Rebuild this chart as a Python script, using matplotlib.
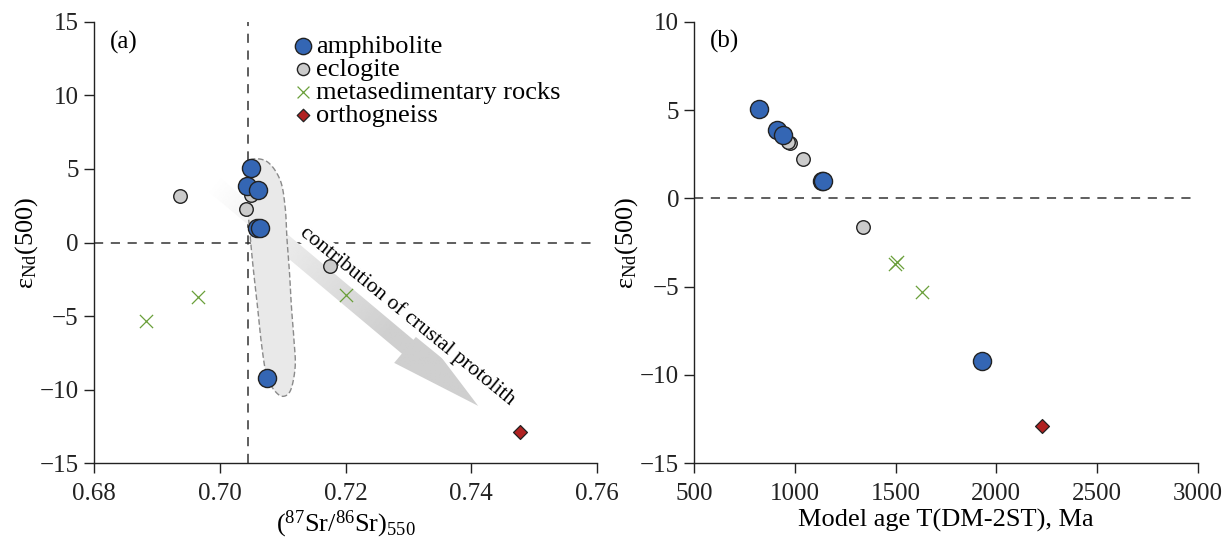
import numpy as np
import matplotlib
matplotlib.use("Agg")
import matplotlib.pyplot as plt
from matplotlib.patches import Polygon

plt.rcParams["font.family"] = ["Liberation Serif", "DejaVu Serif"]
plt.rcParams["mathtext.fontset"] = "custom"
plt.rcParams["mathtext.rm"] = "Liberation Serif"
plt.rcParams["mathtext.it"] = "Liberation Serif:italic"

# amphibolite
amph_sr = [0.7050, 0.7044, 0.7061, 0.7059, 0.7064, 0.7075]
amph_t = [821, 912, 939, 1135, 1139, 1931]
amph_eps = [5.05, 3.85, 3.6, 1.0, 1.0, -9.2]

# eclogite
ecl_sr = [0.6936, 0.7050, 0.7042, 0.7175]
ecl_t = [975, 965, 1038, 1339]
ecl_eps = [3.15, 3.2, 2.25, -1.6]

# metasedimentary rocks
met_sr = [0.6883, 0.6965, 0.7200]
met_t = [1631, 1497, 1505]
met_eps = [-5.3, -3.7, -3.6]

# orthogneiss
orth_sr = [0.7478]
orth_t = [2226]
orth_eps = [-12.9]

sr_ref = 0.7045

# outline of the amphibolite field in panel (a)
field_sr = [0.7048, 0.7075, 0.7096, 0.7104, 0.7107, 0.7111, 0.7114, 0.7118,
            0.7120, 0.7113, 0.7101, 0.7088, 0.7075, 0.7067, 0.7060, 0.7053,
            0.7048, 0.7043, 0.7040]
field_eps = [5.6, 5.5, 4.25, 2.4, 0.2, -2.1, -4.35, -6.6, -8.4, -10.0, -10.45,
             -10.1, -9.1, -7.1, -4.35, -1.65, 0.6, 3.1, 4.7]

# trend arrow (tail, tip)
arrow_sr = [0.6988, 0.7411]
arrow_eps = [4.05, -11.1]

c_amph = "#3466b4"
c_ecl = "#cbcbcb"
c_met = "#6a9f3a"
c_orth = "#b02222"


def smooth_closed(x, y, n=20):
    # periodic Catmull-Rom through the outline vertices
    p = np.column_stack([x, y])
    m = len(p)
    out = []
    for i in range(m):
        p0, p1, p2, p3 = p[i - 1], p[i], p[(i + 1) % m], p[(i + 2) % m]
        for t in np.linspace(0, 1, n, endpoint=False):
            t2, t3 = t * t, t * t * t
            out.append(0.5 * (2 * p1 + (-p0 + p2) * t + (2 * p0 - 5 * p1 + 4 * p2 - p3) * t2
                              + (-p0 + 3 * p1 - 3 * p2 + p3) * t3))
    out.append(out[0])
    return np.array(out)


def style_axes(ax):
    for s in ["top", "right"]:
        ax.spines[s].set_visible(False)
    for s in ["left", "bottom"]:
        ax.spines[s].set_linewidth(1.0)
        ax.spines[s].set_color("#222222")
    ax.tick_params(direction="out", length=7, width=1.0, labelsize=18, colors="#222222",
                   pad=4)
    ax.tick_params(axis="x", pad=7)


def draw_points(ax, xa, xe, xm, xo):
    ax.scatter(xe, ecl_eps, s=95, c=c_ecl, edgecolors="#222222", linewidths=1.0, zorder=4,
               label="eclogite")
    ax.scatter(xa, amph_eps, s=170, c=c_amph, edgecolors="#222222", linewidths=1.0, zorder=5,
               label="amphibolite")
    ax.scatter(xm, met_eps, s=90, c=c_met, marker="x", linewidths=0.9, zorder=4,
               label="metasedimentary rocks")
    ax.scatter(xo, orth_eps, s=50, c=c_orth, marker="D", edgecolors="#222222", linewidths=0.9,
               zorder=4, label="orthogneiss")


fig = plt.figure(figsize=(12.28, 5.44), dpi=100)
ax1 = fig.add_axes([94 / 1228, 80.7 / 544, 503 / 1228, 441.6 / 544])
ax2 = fig.add_axes([694.4 / 1228, 80.7 / 544, 503.1 / 1228, 441.6 / 544])

# ---- panel (a)
ax1.set_xlim(0.68, 0.76)
ax1.set_ylim(-15, 15)
ax1.set_xticks([0.68, 0.70, 0.72, 0.74, 0.76])
ax1.set_xticklabels(["0.68", "0.70", "0.72", "0.74", "0.76"])
ax1.set_yticks([-15, -10, -5, 0, 5, 10, 15])
style_axes(ax1)

ax1.axhline(0, color="#333333", lw=1.1, ls=(0, (6, 5)), zorder=1)
ax1.axvline(sr_ref, color="#333333", lw=1.1, ls=(0, (6, 5)), zorder=1)

outline = smooth_closed(field_sr, field_eps)
ax1.add_patch(Polygon(outline, closed=True, facecolor="#e9e9e9", edgecolor="#8a8a8a",
                      lw=1.0, ls=(0, (4, 2)), zorder=2))

# gradient arrow, built in pixel space so the head keeps its shape
tail = ax1.transData.transform((arrow_sr[0], arrow_eps[0]))
tip = ax1.transData.transform((arrow_sr[1], arrow_eps[1]))
u = (tip - tail) / np.hypot(*(tip - tail))
nrm = np.array([-u[1], u[0]])
length = np.hypot(*(tip - tail))
hw_shaft, hw_head, head_len = 9.0, 21.0, 92.0
base = tail + u * (length - head_len)
poly_px = np.array([tail + nrm * hw_shaft, base + nrm * hw_shaft, base + nrm * hw_head, tip,
                    base - nrm * hw_head, base - nrm * hw_shaft, tail - nrm * hw_shaft])
poly = ax1.transData.inverted().transform(poly_px)
arrow_patch = Polygon(poly, closed=True, facecolor="none", edgecolor="none")
ax1.add_patch(arrow_patch)
gx = np.linspace(0.68, 0.76, 400)
gy = np.linspace(-15, 15, 300)
GX, GY = np.meshgrid(gx, gy)
pts = ax1.transData.transform(np.column_stack([GX.ravel(), GY.ravel()]))
tt = np.clip(((pts - tail) @ u) / length, 0, 1).reshape(GX.shape)
shade = 1.0 - 0.19 * np.clip(tt * 1.5, 0, 1)
ax1.imshow(shade, extent=(0.68, 0.76, -15, 15), origin="lower", cmap="gray", vmin=0, vmax=1,
           aspect="auto", clip_path=arrow_patch, zorder=1.5, interpolation="bilinear")
ax1.set_xlim(0.68, 0.76)
ax1.set_ylim(-15, 15)

ang = np.degrees(np.arctan2(u[1], u[0]))
ax1.text(0.7298, -5.0, "contribution of crustal protolith", rotation=ang + 0.8,
         rotation_mode="anchor", ha="center", va="center", fontsize=15.5, zorder=3,
         bbox=dict(facecolor="white", edgecolor="none", pad=0.5))

draw_points(ax1, amph_sr, ecl_sr, met_sr, orth_sr)

ax1.text(0.6825, 13.6, "(a)", fontsize=18, ha="left", va="center")
handles, labels = ax1.get_legend_handles_labels()
order = [1, 0, 2, 3]
ax1.legend([handles[i] for i in order], [labels[i] for i in order], loc="upper left",
           bbox_to_anchor=(0.352, 0.995), frameon=False, fontsize=19, handletextpad=-0.3,
           labelspacing=-0.02, borderaxespad=0, handlelength=1.6, markerscale=0.9)

ax1.set_xlabel("($^{87}$Sr/$^{86}$Sr)$_{550}$", fontsize=19, labelpad=3)
ax1.set_ylabel("ε$_{\\mathrm{Nd}}$(500)", fontsize=19, labelpad=0)

# ---- panel (b)
ax2.set_xlim(500, 3000)
ax2.set_ylim(-15, 10)
ax2.set_xticks([500, 1000, 1500, 2000, 2500, 3000])
ax2.set_yticks([-15, -10, -5, 0, 5, 10])
style_axes(ax2)
ax2.axhline(0, color="#333333", lw=1.1, ls=(0, (6, 5)), zorder=1)
draw_points(ax2, amph_t, ecl_t, met_t, orth_t)
ax2.text(575, 8.9, "(b)", fontsize=18, ha="left", va="center")
ax2.set_xlabel("Model age T(DM-2ST), Ma", fontsize=19, labelpad=3)
ax2.set_ylabel("ε$_{\\mathrm{Nd}}$(500)", fontsize=19, labelpad=0)

fig.savefig("out.png", dpi=100)
